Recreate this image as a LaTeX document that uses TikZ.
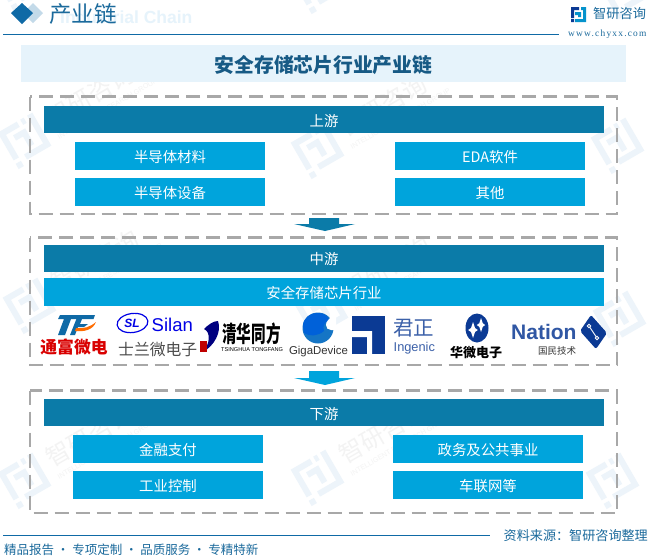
\documentclass[tikz,border=0pt]{standalone}
\usepackage{fontspec}
\setmainfont{Noto Sans CJK SC}
\newfontfamily\lat{Liberation Sans}
\newfontfamily\serw[LetterSpace=13]{Liberation Serif}
\definecolor{dk}{HTML}{0B7BA8}
\definecolor{lt}{HTML}{00A4DC}
\definecolor{nv}{HTML}{0F6AA6}
\definecolor{txt}{HTML}{1B6A9C}
\definecolor{band}{HTML}{E6F3FB}
\definecolor{dash}{HTML}{A8A8A8}
\definecolor{wm}{HTML}{EDF4FA}
\definecolor{wmt}{HTML}{F3F3F3}
\definecolor{ingc}{HTML}{0B3A94}
\tikzset{
 x=1pt,y=-1pt,
 bar/.style={rectangle,inner sep=0pt,text=white,font=\fontsize{14.4}{14.4}\selectfont,text height=13pt,text depth=0pt},
 dkbar/.style={bar,fill=dk,minimum width=560pt,minimum height=27pt},
 ltbar/.style={bar,fill=lt,minimum width=190pt,minimum height=28pt},
 ltwide/.style={bar,fill=lt,minimum width=560pt,minimum height=28pt},
 group/.style={draw=dash,line width=2.4pt,dash pattern=on 14pt off 7pt},
 lab/.style={inner sep=0pt}
}
\newcommand{\wlogo}[2]{%
 \begin{scope}[shift={(#1,#2)},rotate=30,transform shape]
  \fill[wm] (-20,-20) rectangle (2,-14) (-20,-20) rectangle (-14,12) (-20,16) rectangle (-14,22)
   (-8,-10) rectangle (6,-4) (0,-10) rectangle (6,8) (-8,12) rectangle (20,18) (14,-20) rectangle (20,18) (6,-20) rectangle (10,-14);
 \end{scope}}
\newcommand{\wmark}[2]{%
 \wlogo{#1}{#2}%
 \begin{scope}[shift={(#1,#2)},rotate=30,transform shape]
  \node[text=wmt,font=\fontsize{24}{24}\selectfont,inner sep=0pt,anchor=west] at (30,-6) {智研咨询};
  \node[text=wmt,font=\lat\fontsize{7}{7}\selectfont,inner sep=0pt,anchor=west] at (30,14) {INTELLIGENT RESEARCH GROUP};
 \end{scope}}
\newcommand{\sparkle}[3]{\fill[white] (#1,#2-#3) -- (#1+0.25*#3,#2-0.25*#3) -- (#1+0.6*#3,#2) -- (#1+0.25*#3,#2+0.25*#3) -- (#1,#2+#3) -- (#1-0.25*#3,#2+0.25*#3) -- (#1-0.6*#3,#2) -- (#1-0.25*#3,#2-0.25*#3) -- cycle;}
\begin{document}
\begin{tikzpicture}
\useasboundingbox (0,0) rectangle (649,558);
\fill[white] (0,0) rectangle (649,558);
\begin{scope}
\clip (0,0) rectangle (649,558);
\wmark{25}{140}\wmark{318}{150}\wlogo{618}{145}
\wmark{30}{305}\wmark{322}{312}\wlogo{620}{318}
\wmark{25}{480}\wmark{318}{477}\wlogo{613}{480}
\wlogo{20}{-18}\wlogo{318}{-15}\wlogo{625}{-10}
\end{scope}
% header
\node[lab,text=band,font=\lat\bfseries\fontsize{17.5}{17.5}\selectfont,anchor=west] (en) at (60,17) {Industrial Chain};
\fill[nv!25!white] (33,3) -- (43,13) -- (33,23) -- (23,13) -- cycle;
\fill[nv] (22,3) -- (33,13) -- (22,24) -- (11,13) -- cycle;
\node[lab,text=txt,font=\fontsize{22.5}{22.5}\selectfont,anchor=west] (hd) at (49,14) {产业链};
\coordinate (l1a) at (3,34); \coordinate (l1b) at (559,34);
\draw[nv,line width=1pt] (l1a) -- (l1b);
% top-right logo
\fill[ingc] (571,7) rectangle (579,10) (571,7) rectangle (574,18) (571,19) rectangle (574,22);
\fill[lt!70!nv] (575,12) rectangle (581,15) (578,12) rectangle (581,17) (575,19) rectangle (586,22) (583,7) rectangle (586,22) (581,7) rectangle (586,10);
\node[lab,text=txt,font=\fontsize{13.2}{13.2}\selectfont,anchor=west] (brand) at (593,14) {智研咨询};
\node[lab,text=txt,font=\serw\fontsize{9.4}{9.4}\selectfont,anchor=west] (web) at (568,34) {www.chyxx.com};
% title
\node[rectangle,fill=band,minimum width=605pt,minimum height=37pt,inner sep=0pt,text=txt!85!black,font=\bfseries\fontsize{19.8}{19.8}\selectfont,text height=17pt,text depth=0pt] (title) at (323.5,63.5) {安全存储芯片行业产业链};
% group frames
\draw[group] (30,96.5) rectangle (617,214);
\draw[group] (30,237.5) rectangle (617,365);
\draw[group] (30,390.5) rectangle (617,513);
% upstream
\node[dkbar] (up) at (324,119.5) {上游};
\node[ltbar] (u1) at (170,155.5) {半导体材料};
\node[ltbar] (u2) at (490,155.5) {EDA软件};
\node[ltbar] (u3) at (170,192) {半导体设备};
\node[ltbar] (u4) at (490,192) {其他};
% arrows
\fill[dk] (309,218) -- (339,218) -- (339,224) -- (355,224) -- (325,231) -- (294,224) -- (309,224) -- cycle;
\fill[lt] (309,371) -- (339,371) -- (339,378) -- (355,378) -- (325,385) -- (294,378) -- (309,378) -- cycle;
% midstream
\node[dkbar] (mid) at (324,258) {中游};
\node[ltwide] (mid2) at (324,292) {安全存储芯片行业};
% downstream
\node[dkbar] (down) at (324,412.5) {下游};
\node[ltbar] (d1) at (168,449) {金融支付};
\node[ltbar] (d2) at (488,449) {政务及公共事业};
\node[ltbar] (d3) at (168,485) {工业控制};
\node[ltbar] (d4) at (488,485) {车联网等};
% Tongfu logo
\fill[nv] (60,315) -- (79,315) -- (78,319) -- (71,319) -- (65,335) -- (58,335) -- (64,319) -- (58,319) -- cycle;
\fill[nv] (78,315) -- (95,315) -- (93.5,319) -- (82,319) -- (80,324) -- (88,324) -- (84,327) -- (78,327) -- (75,335) -- (70,335) -- cycle;
\fill[orange!85!red] (76,328) .. controls (84,329) and (90,327) .. (96,322) .. controls (93,330) and (84,332) .. (75,331) -- cycle;
\node[lab,text=red!85!black,font=\bfseries\fontsize{16.8}{16.8}\selectfont] (tfc) at (74,347) {通富微电};
% Silan logo
\draw[blue!90!black,line width=1.2pt,rotate around={8:(132.5,323)}] (132.5,323) ellipse (15.5pt and 9.5pt);
\node[lab,text=blue!90!black,font=\lat\bfseries\itshape\fontsize{12}{12}\selectfont] (sl) at (132,323) {SL};
\node[lab,text=blue!90!black,font=\lat\fontsize{18.5}{18.5}\selectfont,anchor=west] (silan) at (151.5,325) {Silan};
\node[lab,text=black!70,font=\fontsize{15.8}{15.8}\selectfont,anchor=west] (slc) at (118,350) {士兰微电子};
% Tongfang logo
\fill[blue!50!black] (218,321) .. controls (222,332) and (214,346) .. (203,352) .. controls (210,344) and (211,332) .. (204,329) .. controls (208,325) and (213,321) .. (218,321) -- cycle;
\fill[red!75!black] (200,341) rectangle (207,352);
\node[lab,text=black,font=\bfseries\fontsize{14.6}{14.6}\selectfont,anchor=west] (tfg) at (222,334) {\scalebox{1}[1.55]{清华同方}};
\node[lab,text=black,font=\lat\fontsize{5.6}{5.6}\selectfont,anchor=west] (tfe) at (221,350) {TSINGHUA TONGFANG};
% GigaDevice logo
\fill[cyan!55!blue] (318,328) circle (15.5pt);
\fill[blue!55!cyan!85!black] (303,326) .. controls (303,318) and (310,313) .. (318,313) .. controls (324,313) and (328,316) .. (329,320) .. controls (325,322) and (322,326) .. (324,331) .. controls (318,336) and (310,337) .. (304,333) -- cycle;
\fill[white] (330,312) -- (336,312) -- (336,330) -- (331,330) .. controls (328,330) and (326,328) .. (326,325) .. controls (326,321) and (329,320) .. (330,318) -- cycle;
\node[lab,text=black!80,font=\lat\fontsize{11.4}{11.4}\selectfont] (giga) at (318.5,352) {GigaDevice};
% Ingenic logo
\fill[ingc] (352,316) rectangle (385,354);
\fill[white] (352,331) -- (372,331) -- (372,354) -- (367,354) -- (367,337) -- (352,337) -- cycle;
\node[lab,text=ingc!80!white,font=\fontsize{20.5}{20.5}\selectfont,anchor=west] (jz) at (393,328) {君正};
\node[lab,text=ingc!80!white,font=\lat\fontsize{12.8}{12.8}\selectfont,anchor=west] (ing) at (393.5,348) {Ingenic};
% Huawei logo
\fill[ingc] (477,328) ellipse (11.5pt and 14.5pt);
\sparkle{473}{330}{8}
\sparkle{481}{325}{7}
\node[lab,text=black,font=\bfseries\fontsize{13}{13}\selectfont] (hw) at (476,353) {华微电子};
% Nation logo
\node[lab,text=ingc!85!white,font=\lat\bfseries\fontsize{21}{21}\selectfont,anchor=west] (nat) at (511,331.5) {Nation};
\node[lab,text=black!80,font=\fontsize{9.5}{9.5}\selectfont] (gm) at (557,350.5) {国民技术};
\fill[ingc,rounded corners=2pt] (591,315) -- (607,333) -- (596,349) -- (580,331) -- cycle;
\draw[white,line width=0.9pt] (589,326) -- (597,338);
\draw[white,line width=0.9pt,fill=ingc] (589,326) circle (1.8pt) (597,338) circle (1.8pt);
% footer
\coordinate (l2a) at (3,535); \coordinate (l2b) at (490,535);
\draw[nv,line width=1pt] (l2a) -- (l2b);
\node[lab,text=txt,font=\fontsize{13.1}{13.1}\selectfont,anchor=east] (src) at (648,536) {资料来源：智研咨询整理};
\node[lab,text=txt,font=\fontsize{12.5}{12.5}\selectfont,anchor=west] (foot) at (4,550) {精品报告 · 专项定制 · 品质服务 · 专精特新};
\end{tikzpicture}
\end{document}
